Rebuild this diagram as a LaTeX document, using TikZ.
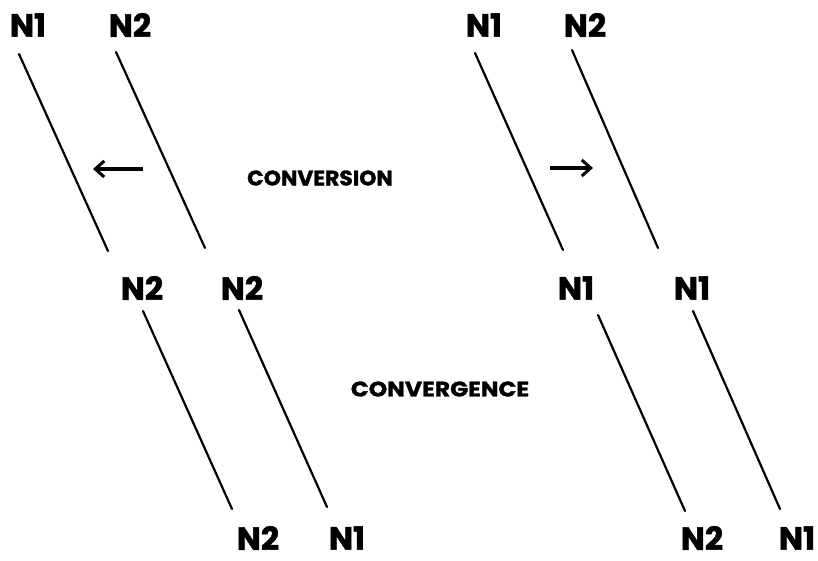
\documentclass[tikz,border=0pt]{standalone}
\usepackage{fontspec}
\setmainfont{Poppins}
\usetikzlibrary{arrows.meta}
\tikzset{
  lbl/.style={font=\fontsize{32}{32}\selectfont\bfseries\addfontfeatures{FakeBold=1.5}, inner sep=0pt, anchor=center},
  word/.style={font=\fontsize{21}{21}\selectfont\bfseries\addfontfeatures{FakeBold=1.5}, inner sep=0pt, anchor=center},
  strand/.style={line width=2.2pt, line cap=round},
  dirarrow/.style={line width=3.6pt, -{Straight Barb[length=9pt,width=16pt,line width=3pt]}}
}
\begin{document}
\begin{tikzpicture}[x=1pt,y=-1pt]
\useasboundingbox (0,0) rectangle (818,560);
% left panel labels
\node[lbl] (la1) at (28,25) {N1};
\node[lbl] (la2) at (130,25) {N2};
\node[lbl] (lb1) at (142,288) {N2};
\node[lbl] (lb2) at (242,288) {N2};
\node[lbl] (lc1) at (258,538) {N2};
\node[lbl] (lc2) at (347,538) {N1};
% right panel labels
\node[lbl] (ra1) at (484,25) {N1};
\node[lbl] (ra2) at (585,25) {N2};
\node[lbl] (rb1) at (576,288) {N1};
\node[lbl] (rb2) at (692,288) {N1};
\node[lbl] (rc1) at (702,538) {N2};
\node[lbl] (rc2) at (797,538) {N1};
% words
\node[word, xscale=1.04] (conv) at (320,178) {CONVERSION};
\node[word, xscale=1.12] (congr) at (440,389) {CONVERGENCE};
% strand end points
\coordinate (l1s) at (19,54);  \coordinate (l1e) at (108,251);
\coordinate (l2s) at (116,52); \coordinate (l2e) at (205,248);
\coordinate (l3s) at (143,311); \coordinate (l3e) at (232,509);
\coordinate (l4s) at (239,310); \coordinate (l4e) at (327,507);
\coordinate (r1s) at (475,53); \coordinate (r1e) at (563,250);
\coordinate (r2s) at (572,50); \coordinate (r2e) at (658,248);
\coordinate (r3s) at (598,315); \coordinate (r3e) at (685,511);
\coordinate (r4s) at (693,311); \coordinate (r4e) at (780,509);
\draw[strand] (l1s) -- (l1e);
\draw[strand] (l2s) -- (l2e);
\draw[strand] (l3s) -- (l3e);
\draw[strand] (l4s) -- (l4e);
\draw[strand] (r1s) -- (r1e);
\draw[strand] (r2s) -- (r2e);
\draw[strand] (r3s) -- (r3e);
\draw[strand] (r4s) -- (r4e);
% arrows
\coordinate (lar1) at (143,169); \coordinate (lar2) at (93,169);
\coordinate (rar1) at (550,168); \coordinate (rar2) at (593,168);
\draw[dirarrow] (lar1) -- (lar2);
\draw[dirarrow] (rar1) -- (rar2);
\end{tikzpicture}
\end{document}
